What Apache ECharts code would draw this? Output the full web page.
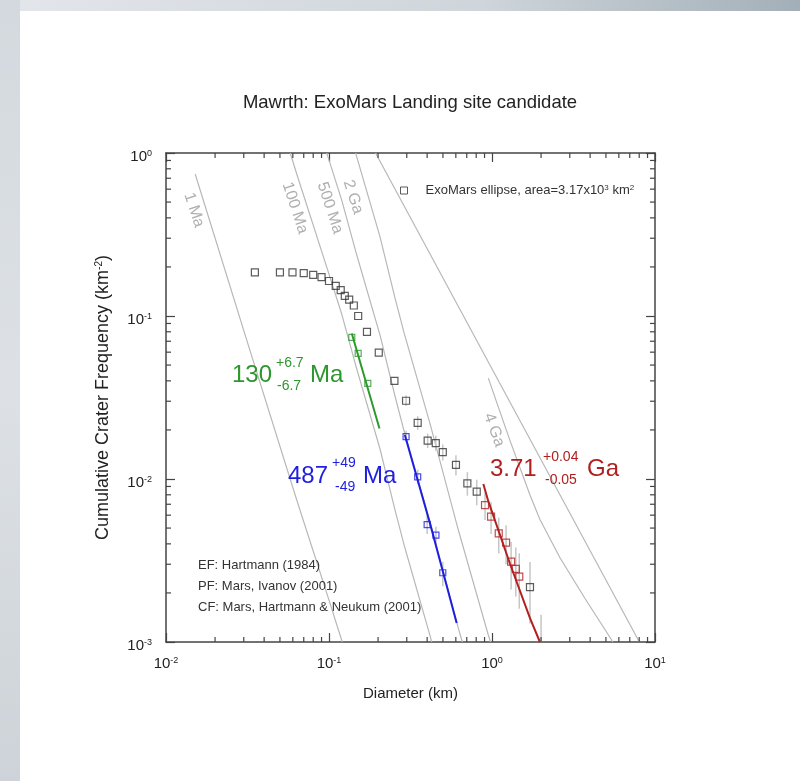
<!DOCTYPE html>
<html><head><meta charset="utf-8">
<script src="https://cdn.jsdelivr.net/npm/echarts@6/dist/echarts.min.js"></script>
<style>
html,body{margin:0;padding:0;background:#fff;width:800px;height:781px;overflow:hidden}
#bgTop{position:absolute;left:0;top:0;width:800px;height:11px;background:linear-gradient(to right,#e3e6ea,#cfd5da 60%,#a3afb8)}
#bgLeft{position:absolute;left:0;top:0;width:20px;height:781px;background:linear-gradient(to bottom,#d3d9de,#dde1e5 50%,#cdd3d8)}
#chart{position:absolute;left:0;top:0;width:800px;height:781px}
</style></head><body>
<div id="bgTop"></div><div id="bgLeft"></div><div id="chart"></div>
<script>
// ---- data (diameter km, cumulative frequency km^-2) ----
const exoD = [0.0351,0.050,0.0597,0.070,0.080,0.090,0.100,0.110,0.118,0.125,0.133,0.142,0.151,0.171,0.202,0.252,0.297,0.350,0.403,0.452,0.499,0.601,0.706,0.806,1.71,2.0];
const exoN = [0.185,0.185,0.185,0.183,0.179,0.173,0.164,0.153,0.144,0.133,0.126,0.116,0.100,0.080,0.0596,0.040,0.0302,0.0221,0.0172,0.0166,0.0146,0.0122,0.0094,0.00836,0.00217,0.0007];
const greenD = [0.138,0.151,0.173];
const greenN = [0.074,0.059,0.0386];
const blueD = [0.297,0.350,0.400,0.453,0.499];
const blueN = [0.0182,0.0103,0.00525,0.00453,0.00266];
const redD = [0.906,0.987,1.10,1.22,1.31,1.40,1.47];
const redN = [0.00692,0.00587,0.00464,0.00407,0.00311,0.00281,0.00252];

const fitGreenD = [0.138,0.148,0.204];
const fitGreenN = [0.078,0.0615,0.0204];
const fitBlueD = [0.292,0.417,0.607];
const fitBlueN = [0.0186,0.00531,0.00131];
const fitRedD = [0.885,0.949,1.288,1.710,1.968];
const fitRedN = [0.00933,0.00731,0.00303,0.0014,0.001];

const iso1MaD = [0.0151,0.0327,0.0634,0.0991,0.1206];
const iso1MaN = [0.743,0.0618,0.00743,0.00186,0.001];
const iso100MaD = [0.0578,0.0634,0.0991,0.1197,0.148,0.2056,0.254,0.288,0.417,0.4266];
const iso100MaN = [1,0.743,0.186,0.1028,0.0473,0.01528,0.00646,0.00398,0.00109,0.001];
const iso500MaD = [0.0968,0.0991,0.1197,0.148,0.2056,0.254,0.288,0.417,0.621,0.657];
const iso500MaN = [1,0.931,0.514,0.2366,0.0764,0.0323,0.0199,0.00545,0.00122,0.001];
const iso2GaD = [0.1457,0.148,0.2056,0.254,0.288,0.417,0.621,0.949,0.980];
const iso2GaN = [1,0.946,0.3055,0.129,0.0796,0.0218,0.00488,0.001104,0.001];
const iso4GaD = [0.949,1.288,1.710,1.968,2.612,3.72,5.42,5.51];
const iso4GaN = [0.0416,0.01726,0.00798,0.00564,0.00329,0.00185,0.001028,0.001];
const efD = [0.193,8.02];
const efN = [1,0.001];

const errD  = [0.297,0.350,0.403,0.452,0.499,0.601,0.706,0.806,0.906,0.987,1.10,1.22,1.31,1.40,1.47,1.71,2.0, 0.297,0.350,0.400,0.453,0.499];
const errLo = [0.0280,0.0200,0.0155,0.0149,0.0130,0.0105,0.0079,0.0069,0.0056,0.0046,0.0035,0.0030,0.0021,0.0019,0.0016,0.0013,0.0004, 0.0168,0.0093,0.0046,0.0040,0.0022];
const errHi = [0.0325,0.0243,0.0190,0.0184,0.0163,0.0140,0.0110,0.0099,0.0083,0.0072,0.0058,0.0052,0.0041,0.0038,0.0035,0.0031,0.00147, 0.0198,0.0114,0.0060,0.0051,0.0031];

const xMajor = [0.01,0.1,1,10];
const yMajor = [0.001,0.01,0.1,1];
const mult = [2,3,4,5,6,7,8,9];

const FONT = '"Liberation Sans", Arial, Helvetica, sans-serif';
const zip = (a,b) => a.map((v,i)=>[v,b[i]]);

const minorData = [];
xMajor.slice(0,-1).forEach(m => mult.forEach(k => { minorData.push([m*k,0.001,0]); minorData.push([m*k,1,1]); }));
yMajor.slice(0,-1).forEach(m => mult.forEach(k => { minorData.push([0.01,m*k,2]); minorData.push([10,m*k,3]); }));

const chart = echarts.init(document.getElementById('chart'), null, {renderer:'canvas'});
const labelFmt = v => '{b|10}{s|' + Math.round(Math.log10(v)) + '}';
const richLab = { b:{fontSize:15, fontFamily:FONT, color:'#222'}, s:{fontSize:9, fontFamily:FONT, color:'#222', verticalAlign:'top'} };
const axLine = {lineStyle:{color:'#444', width:1.5}};
const axTick = {inside:true, length:9, lineStyle:{color:'#444', width:1.2}};

function isoSeries(d,n){
  return {type:'line', data:zip(d,n), showSymbol:false, symbol:'none', silent:true, z:1,
    lineStyle:{color:'#b8b8b8', width:1.2}};
}
function fitSeries(d,n,c){
  return {type:'line', data:zip(d,n), showSymbol:false, symbol:'none', silent:true, z:3,
    lineStyle:{color:c, width:2}};
}
function sq(name,d,n,c,size){
  return {name:name, type:'scatter', data:zip(d,n), symbol:'rect', symbolSize:size, z:4, silent:true,
    itemStyle:{color:'rgba(255,255,255,0)', borderColor:c, borderWidth:1.2}};
}

const isoLabels = [
  {t:'1 Ma', x:194, y:210, r:-72},
  {t:'100 Ma', x:295, y:208, r:-72},
  {t:'500 Ma', x:330, y:208, r:-72},
  {t:'2 Ga', x:353, y:197, r:-72},
  {t:'4 Ga', x:494, y:430, r:-70}
];
function txt(t,x,y,size,color,align,rot){
  return {type:'text', x:x, y:y, rotation:(rot||0)*Math.PI/180, silent:true, z:10,
    style:{text:t, fill:color, font:size+'px '+FONT, textAlign:align||'left', align:align||'left',
      textVerticalAlign:'middle', verticalAlign:'middle'}};
}
const graphics = [
  txt('Mawrth: ExoMars Landing site candidate',410,103,18.5,'#222','center'),
  txt('EF: Hartmann (1984)',198,565,13,'#333'),
  txt('PF: Mars, Ivanov (2001)',198,586,13,'#333'),
  txt('CF: Mars, Hartmann & Neukum (2001)',198,607,13,'#333'),
  // green
  txt('130',232,375,24,'#2e962e'), txt('+6.7',276,363,14,'#2e962e'), txt('-6.7',277,386,14,'#2e962e'), txt('Ma',310,375,24,'#2e962e'),
  // blue
  txt('487',288,476,24,'#1e1ee0'), txt('+49',332,463,14,'#1e1ee0'), txt('-49',335,487,14,'#1e1ee0'), txt('Ma',363,476,24,'#1e1ee0'),
  // red
  txt('3.71',490,469,24,'#b01e1e'), txt('+0.04',543,457,14,'#b01e1e'), txt('-0.05',545,480,14,'#b01e1e'), txt('Ga',587,469,24,'#b01e1e')
].concat(isoLabels.map(l => txt(l.t,l.x,l.y,16,'#b0b0b0','center',l.r)));

const option = {
  animation:false,
  backgroundColor:'transparent',
  textStyle:{fontFamily:FONT},
  grid:{left:166, top:153, width:489, height:489, containLabel:false},
  legend:{
    data:['ExoMars'], left:395, top:179, itemWidth:7, itemHeight:7, icon:'rect',
    formatter:()=> '{p|}ExoMars ellipse, area=3.17x10{s|3} km{s|2}',
    textStyle:{fontSize:13, color:'#333', fontFamily:FONT, rich:{p:{width:13}, s:{fontSize:8, fontFamily:FONT, color:'#333', verticalAlign:'top'}}},
    itemStyle:{color:'rgba(255,255,255,0)', borderColor:'#333', borderWidth:1}
  },
  xAxis:[
    {type:'log', logBase:10, min:0.01, max:10, position:'bottom', axisLine:axLine, axisTick:axTick,
     splitLine:{show:false}, minorTick:{show:false},
     axisLabel:{margin:14, color:'#222', fontFamily:FONT, formatter:labelFmt, rich:richLab},
     name:'Diameter (km)', nameLocation:'middle', nameGap:44,
     nameTextStyle:{fontSize:15, color:'#222', fontFamily:FONT}},
    {type:'log', logBase:10, min:0.01, max:10, position:'top', axisLine:axLine, axisTick:axTick,
     splitLine:{show:false}, axisLabel:{show:false}}
  ],
  yAxis:[
    {type:'log', logBase:10, min:0.001, max:1, position:'left', axisLine:axLine, axisTick:axTick,
     splitLine:{show:false}, minorTick:{show:false},
     axisLabel:{margin:14, color:'#222', fontFamily:FONT, formatter:labelFmt, rich:richLab, padding:[7,0,0,0]},
     name:'{a|Cumulative Crater Frequency (km}{s|-2}{a|)}', nameLocation:'middle', nameGap:54,
     nameTextStyle:{color:'#222', fontFamily:FONT, rich:{a:{fontSize:18, fontFamily:FONT, color:'#222'}, s:{fontSize:10, fontFamily:FONT, color:'#222', verticalAlign:'top'}}}},
    {type:'log', logBase:10, min:0.001, max:1, position:'right', axisLine:axLine, axisTick:axTick,
     splitLine:{show:false}, axisLabel:{show:false}}
  ],
  series:[
    isoSeries(iso1MaD,iso1MaN), isoSeries(iso100MaD,iso100MaN), isoSeries(iso500MaD,iso500MaN),
    isoSeries(iso2GaD,iso2GaN), isoSeries(iso4GaD,iso4GaN), isoSeries(efD,efN),
    {type:'custom', silent:true, z:2, clip:true, data: errD.map((d,i)=>[d,errLo[i],errHi[i]]),
     renderItem:(p,api)=>{
       const a = api.coord([api.value(0), Math.max(api.value(1),0.001)]);
       const b = api.coord([api.value(0), api.value(2)]);
       return {type:'line', shape:{x1:a[0],y1:a[1],x2:b[0],y2:b[1]}, style:{stroke:'#c6c6c6', lineWidth:1.5}};
     }},
    fitSeries(fitGreenD,fitGreenN,'#2e9a2e'), fitSeries(fitBlueD,fitBlueN,'#1e1ee0'), fitSeries(fitRedD,fitRedN,'#b22020'),
    sq('ExoMars',exoD,exoN,'#333',7),
    sq('g',greenD,greenN,'#2e9a2e',6), sq('b',blueD,blueN,'#1e1ee0',6), sq('r',redD,redN,'#b22020',7),
    {type:'custom', silent:true, z:5, clip:false, data:minorData,
     renderItem:(p,api)=>{
       const c = api.coord([api.value(0), api.value(1)]);
       const dir = api.value(2), L = 5;
       let s;
       if (dir===0) s={x1:c[0],y1:c[1],x2:c[0],y2:c[1]-L};
       else if (dir===1) s={x1:c[0],y1:c[1],x2:c[0],y2:c[1]+L};
       else if (dir===2) s={x1:c[0],y1:c[1],x2:c[0]+L,y2:c[1]};
       else s={x1:c[0],y1:c[1],x2:c[0]-L,y2:c[1]};
       return {type:'line', shape:s, style:{stroke:'#444', lineWidth:1.2}};
     }}
  ],
  graphic:{elements:graphics}
};
chart.setOption(option);
</script>
</body></html>
